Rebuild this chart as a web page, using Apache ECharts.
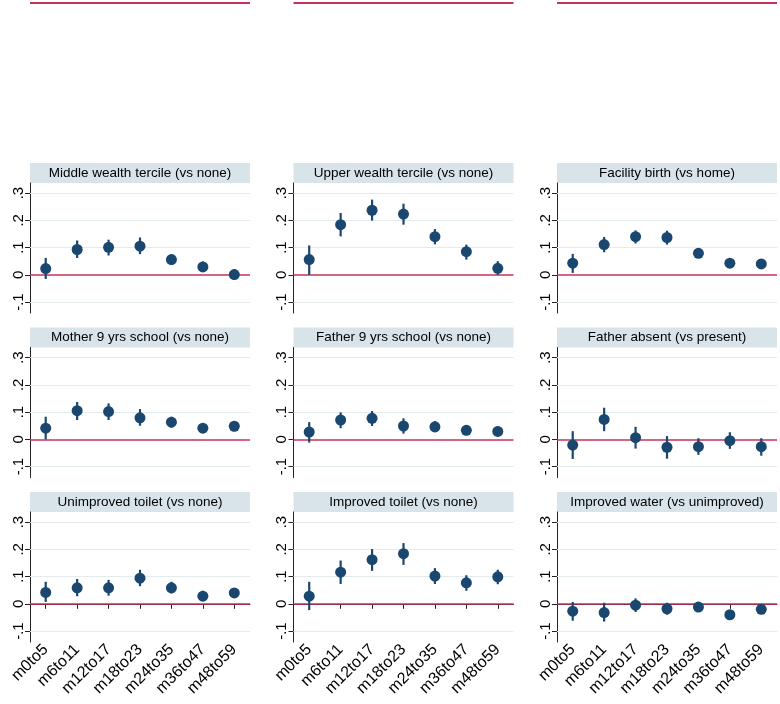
<!DOCTYPE html>
<html>
<head>
<meta charset="utf-8">
<script src="https://cdn.jsdelivr.net/npm/echarts@6/dist/echarts.min.js"></script>
<style>html,body{margin:0;padding:0;background:#fff}#c{width:780px;height:704px}</style>
</head>
<body>
<div id="c"></div>
<script>
const categories = ['m0to5', 'm6to11', 'm12to17', 'm18to23', 'm24to35', 'm36to47', 'm48to59'];
const yTicks = [-0.1, 0, 0.1, 0.2, 0.3];
const gridTicks = [-0.1, 0.1, 0.2, 0.3];

const panelTitles = [
  'Middle wealth tercile (vs none)', 'Upper wealth tercile (vs none)', 'Facility birth (vs home)',
  'Mother 9 yrs school (vs none)', 'Father 9 yrs school (vs none)', 'Father absent (vs present)',
  'Unimproved toilet (vs none)', 'Improved toilet (vs none)', 'Improved water (vs unimproved)'
];

const midWealthEst = [0.023, 0.093, 0.101, 0.105, 0.056, 0.029, 0.001];
const midWealthLo  = [-0.015, 0.062, 0.071, 0.076, 0.038, 0.011, -0.017];
const midWealthHi  = [0.062, 0.126, 0.129, 0.137, 0.074, 0.049, 0.020];

const upWealthEst = [0.056, 0.184, 0.237, 0.223, 0.140, 0.085, 0.024];
const upWealthLo  = [0.000, 0.141, 0.199, 0.184, 0.112, 0.056, 0.000];
const upWealthHi  = [0.108, 0.227, 0.276, 0.261, 0.168, 0.111, 0.050];

const facilityEst = [0.043, 0.111, 0.140, 0.137, 0.079, 0.043, 0.040];
const facilityLo  = [0.007, 0.083, 0.115, 0.111, 0.062, 0.032, 0.032];
const facilityHi  = [0.077, 0.139, 0.163, 0.162, 0.095, 0.052, 0.050];

const motherEst = [0.041, 0.105, 0.102, 0.079, 0.063, 0.041, 0.048];
const motherLo  = [0.000, 0.071, 0.071, 0.050, 0.043, 0.024, 0.030];
const motherHi  = [0.083, 0.137, 0.132, 0.111, 0.083, 0.059, 0.066];

const fatherEst = [0.027, 0.071, 0.077, 0.049, 0.046, 0.033, 0.029];
const fatherLo  = [-0.012, 0.041, 0.049, 0.021, 0.026, 0.015, 0.011];
const fatherHi  = [0.063, 0.099, 0.104, 0.077, 0.067, 0.051, 0.048];

const absentEst = [-0.021, 0.073, 0.006, -0.029, -0.027, -0.005, -0.027];
const absentLo  = [-0.072, 0.030, -0.034, -0.071, -0.057, -0.035, -0.060];
const absentHi  = [0.030, 0.116, 0.046, 0.012, 0.004, 0.026, 0.004];

const unimpToiletEst = [0.042, 0.059, 0.059, 0.094, 0.059, 0.028, 0.040];
const unimpToiletLo  = [0.007, 0.028, 0.030, 0.065, 0.038, 0.011, 0.023];
const unimpToiletHi  = [0.081, 0.091, 0.088, 0.125, 0.081, 0.048, 0.057];

const impToiletEst = [0.028, 0.116, 0.162, 0.184, 0.102, 0.077, 0.099];
const impToiletLo  = [-0.023, 0.073, 0.121, 0.143, 0.073, 0.048, 0.072];
const impToiletHi  = [0.081, 0.159, 0.201, 0.223, 0.131, 0.105, 0.125];

const waterEst = [-0.027, -0.032, -0.005, -0.018, -0.012, -0.040, -0.020];
const waterLo  = [-0.062, -0.065, -0.030, -0.040, -0.030, -0.058, -0.038];
const waterHi  = [0.007, 0.004, 0.020, 0.004, 0.006, -0.022, -0.002];

const panels = [
  [midWealthEst, midWealthLo, midWealthHi],
  [upWealthEst, upWealthLo, upWealthHi],
  [facilityEst, facilityLo, facilityHi],
  [motherEst, motherLo, motherHi],
  [fatherEst, fatherLo, fatherHi],
  [absentEst, absentLo, absentHi],
  [unimpToiletEst, unimpToiletLo, unimpToiletHi],
  [impToiletEst, impToiletLo, impToiletHi],
  [waterEst, waterLo, waterHi]
];

const FONT = '"Liberation Sans", Arial, Helvetica, sans-serif';
const NAVY = '#1a476f';
const RED = '#c7325a';
const GRIDC = '#e3ebef';
const colLeft = [30, 293.5, 557];
const rowTop = [183, 347.5, 512];
const W = 220, H = 130;
const YMIN = -0.14, YMAX = 0.337;

function fmt(v) {
  if (Math.abs(v) < 1e-9) return '0';
  const s = Math.abs(v).toFixed(1).replace(/^0/, '');
  return (v < 0 ? '-' : '') + s;
}

const grid = [], xAxis = [], yAxis = [], series = [], graphic = [];

panels.forEach((p, k) => {
  const r = Math.floor(k / 3), c = k % 3;
  const bottom = r === 2;
  grid.push({ left: colLeft[c], top: rowTop[r], width: W, height: H, containLabel: false });
  xAxis.push({
    type: 'category', gridIndex: k, data: categories, boundaryGap: true,
    axisLine: { show: bottom, lineStyle: { color: '#222', width: 1 } },
    axisTick: { show: bottom, alignWithLabel: true, length: 5, lineStyle: { color: '#222' } },
    axisLabel: { show: bottom, rotate: 45, fontSize: 16, color: '#000', fontFamily: FONT, margin: 5, interval: 0 },
    splitLine: { show: false }
  });
  yAxis.push({
    type: 'value', gridIndex: k, min: YMIN, max: YMAX,
    axisLine: { show: true, lineStyle: { color: '#222', width: 1 } },
    axisTick: { show: true, length: 5, customValues: yTicks, lineStyle: { color: '#222' } },
    axisLabel: { show: true, customValues: yTicks, rotate: 90, fontSize: 15, color: '#000', fontFamily: FONT, margin: 4, formatter: fmt },
    splitLine: { show: false }
  });
  // background reference lines (grid + zero line) drawn below the marks
  series.push({
    type: 'line', xAxisIndex: k, yAxisIndex: k, z: 1, data: [], silent: true,
    markLine: {
      silent: true, symbol: 'none', label: { show: false }, animation: false, z: 1,
      data: gridTicks.map(v => ({ yAxis: v, lineStyle: { color: GRIDC, width: 1, type: 'solid' } }))
        .concat([{ yAxis: 0, lineStyle: { color: RED, width: 1.5, type: 'solid' } }])
    }
  });
  series.push({
    type: 'custom', xAxisIndex: k, yAxisIndex: k, z: 2,
    data: categories.map((cat, i) => [i, p[1][i], p[2][i]]),
    encode: { x: 0, y: [1, 2] },
    renderItem: (params, api) => {
      const a = api.coord([api.value(0), api.value(1)]);
      const b = api.coord([api.value(0), api.value(2)]);
      return { type: 'line', shape: { x1: a[0], y1: a[1], x2: b[0], y2: b[1] }, style: { stroke: NAVY, lineWidth: 2.2 } };
    }
  });
  series.push({
    type: 'scatter', xAxisIndex: k, yAxisIndex: k, z: 3,
    data: p[0], symbol: 'circle', symbolSize: 11,
    itemStyle: { color: NAVY, opacity: 1 }
  });
  graphic.push({
    type: 'rect', left: colLeft[c], top: rowTop[r] - 20,
    shape: { width: W, height: 20 }, style: { fill: '#d9e4ea' }, silent: true
  });
  graphic.push({
    type: 'text', x: colLeft[c] + W / 2, y: rowTop[r] - 10,
    style: { text: panelTitles[k], fill: '#000', font: '13.5px ' + FONT, textAlign: 'center', textVerticalAlign: 'middle' },
    silent: true
  });
});

// remnants of zero lines from panels cropped above the figure
colLeft.forEach((l, j) => {
  const k = grid.length;
  grid.push({ left: l, top: 0, width: W, height: 6, containLabel: false });
  xAxis.push({ type: 'value', gridIndex: k, min: 0, max: 1, show: false });
  yAxis.push({ type: 'value', gridIndex: k, min: -1, max: 1, show: false });
  series.push({
    type: 'line', xAxisIndex: k, yAxisIndex: k, data: [], silent: true,
    markLine: { silent: true, symbol: 'none', label: { show: false }, animation: false,
      data: [{ yAxis: 0, lineStyle: { color: RED, width: 2, type: 'solid' } }] }
  });
});

const chart = echarts.init(document.getElementById('c'), null, { renderer: 'canvas' });
chart.setOption({ animation: false, backgroundColor: '#fff', grid, xAxis, yAxis, series, graphic });
</script>
</body>
</html>
